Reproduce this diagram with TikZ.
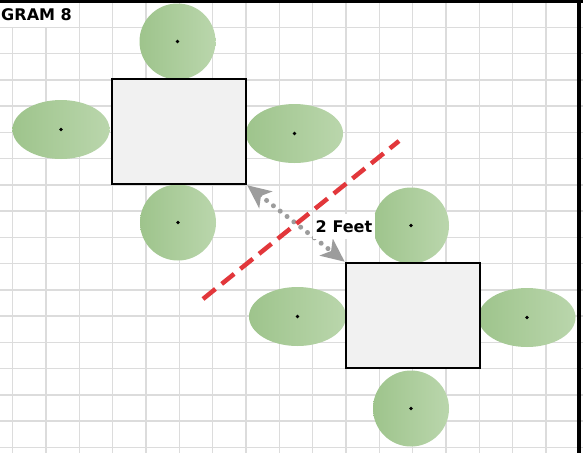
\documentclass[tikz,border=0pt]{standalone}
\usepackage{fontspec}
\usetikzlibrary{arrows.meta,shapes.geometric}
\newfontfamily\labelfont{DejaVu Sans}
\definecolor{gridln}{HTML}{DCDCDC}
\definecolor{tablegr}{HTML}{F1F1F1}
\definecolor{leafdk}{HTML}{9EC48C}
\definecolor{leaflt}{HTML}{BAD6AC}
\definecolor{gapred}{HTML}{E2373B}
\definecolor{gapgrey}{HTML}{9C9C9C}

\begin{document}
\begin{tikzpicture}[x=0.3mm,y=-0.3mm,
    gridline/.style={gridln,line width=0.45mm},
    seatround/.style={ellipse,inner sep=0pt,left color=leafdk,right color=leaflt,
      minimum width=22.8mm,minimum height=22.8mm},
    seatside/.style={ellipse,inner sep=0pt,left color=leafdk,right color=leaflt,
      minimum width=29.1mm,minimum height=17.7mm},
    table/.style={rectangle,draw=black,line width=0.75mm,fill=tablegr,
      minimum width=40.2mm,minimum height=31.5mm,inner sep=0pt},
    caption/.style={font=\labelfont\bfseries\fontsize{13.7}{16}\selectfont},
    gap/.style={gapgrey,line width=1.5mm,line cap=round,dash pattern=on 0pt off 2.6mm,
      {Stealth[length=7mm,width=6.3mm,inset=1.8mm]}-{Stealth[length=7mm,width=6.3mm,inset=1.8mm]}},
    cut/.style={gapred,line width=1.35mm,dash pattern=on 4.8mm off 2.4mm}]

  \useasboundingbox (0,0) rectangle (583,453);
  \fill[white] (0,0) rectangle (583,453);

  % Squared paper.
  \foreach \i in {0,...,16}
    \draw[gridline] ({12.7+33.33*\i},0) -- ({12.7+33.33*\i},453);
  \foreach \j in {0,...,16}
    \draw[gridline] (0,{27.3+26.25*\j}) -- (583,{27.3+26.25*\j});

  \fill[white] (0,0) rectangle (76,27);
  \node[caption,anchor=west,inner sep=0pt] (title) at (1,14.5) {GRAM 8};

  % Chairs round the two tables.
  \node[seatround] (a-n) at (177.5,41.5) {};
  \node[seatside]  (a-w) at (61,129.5) {};
  \node[seatside]  (a-e) at (294.5,133.5) {};
  \node[seatround] (a-s) at (178,222.5) {};
  \node[seatround] (b-n) at (411,225.5) {};
  \node[seatside]  (b-w) at (297.5,316.5) {};
  \node[seatside]  (b-e) at (527,317.5) {};
  \node[seatround] (b-s) at (411,408.5) {};
  \foreach \c in {a-n,a-w,a-e,a-s,b-n,b-w,b-e,b-s}
    \fill[black] (\c.center) circle (0.55mm);

  \node[table] (tabA) at (179,131.5) {};
  \node[table] (tabB) at (413,315.5) {};

  \draw[gap] (tabA.south east) -- (tabB.north west);

  \coordinate (cutlo) at (203,299);
  \coordinate (cuthi) at (399,141);
  \draw[cut] (cutlo) -- (cuthi);

  \node[caption,fill=white,inner xsep=0.8mm,inner ysep=1.8mm] (dist) at (344,226.5) {2 Feet};

  % Frame edges left in the crop.
  \fill[black] (0,0) rectangle (583,2.5);
  \fill[black] (577,0) rectangle (581,453);
\end{tikzpicture}
\end{document}
